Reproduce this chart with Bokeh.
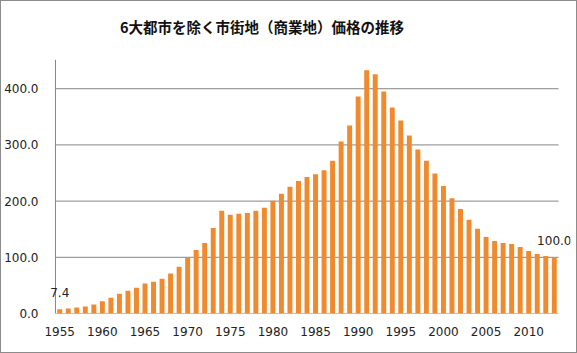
from bokeh.plotting import figure
from bokeh.layouts import column
from bokeh.models import Range1d, FixedTicker, NumeralTickFormatter, ColumnDataSource, Div
from bokeh.core.properties import value
from bokeh.embed import file_html
from bokeh.resources import INLINE

title_text = "6大都市を除く市街地（商業地）価格の推移"
years = list(range(1955, 2014))
values = [7.4, 8.8, 10.6, 12.4, 15.9, 21.8, 28.2, 35.3, 40.6, 45.9,
          53.5, 56.5, 61.8, 71.2, 83.0, 99.0, 113.0, 125.6, 152.0, 182.7,
          175.6, 177.4, 179.0, 182.7, 188.0, 200.6, 213.0, 225.6, 236.0, 243.0,
          248.0, 255.0, 272.0, 306.0, 334.5, 386.0, 432.7, 425.6, 395.0, 366.7,
          343.5, 316.7, 291.7, 272.0, 249.0, 227.0, 205.0, 186.0, 166.7, 150.6,
          136.3, 129.0, 125.6, 123.8, 118.5, 111.3, 106.0, 102.4, 100.0]
y_ticks = [0, 100, 200, 300, 400]
x_ticks = [1955, 1960, 1965, 1970, 1975, 1980, 1985, 1990, 1995, 2000, 2005, 2010]
y_max = 452

x_lo = years[0] - 0.5
x_hi = years[-1] + 0.5

src = ColumnDataSource(dict(x=years, top=values))
lab_src = ColumnDataSource(dict(x=[years[0], years[-1]], y=[values[0], values[-1]],
                                t=["%.1f" % values[0], "%.1f" % values[-1]]))

title = Div(text=('<div style="margin:16px 0 0 119px; white-space:nowrap; '
                  'font-family:\'Noto Sans CJK JP\'; font-size:14.5px; font-weight:bold; '
                  'color:#111111; line-height:20px;">' + title_text + '</div>'),
            width=575, height=40, margin=(0, 0, 0, 0))

p = figure(width=575, height=311, output_backend="svg", toolbar_location=None,
           x_range=Range1d(x_lo - 0.7, x_hi + 1.4), y_range=Range1d(0, y_max),
           min_border_left=42, min_border_right=6, min_border_top=18, min_border_bottom=39,
           margin=(0, 0, 0, 0))
p.outline_line_color = None

# gridlines and axis lines limited to the bar area
p.segment(x0=x_lo, x1=x_hi, y0=y_ticks[1:], y1=y_ticks[1:], line_color="#868686", line_width=1)
p.vbar(x="x", top="top", width=0.58, source=src, fill_color="#F08A2F", line_color=None)
p.segment(x0=[x_lo, x_lo], x1=[x_lo, x_hi], y0=[0, 0], y1=[y_max, 0],
          line_color="#868686", line_width=1)
p.text(x="x", y="y", text="t", source=lab_src, text_align="center", text_baseline="bottom",
       y_offset=-12, text_font=value("DejaVu Sans"), text_font_size="12px", text_color="#222222")

p.xgrid.grid_line_color = None
p.ygrid.grid_line_color = None

p.yaxis.ticker = FixedTicker(ticks=y_ticks)
p.yaxis.formatter = NumeralTickFormatter(format="0.0")
p.xaxis.ticker = FixedTicker(ticks=x_ticks)
for ax in (p.xaxis, p.yaxis):
    ax.axis_line_color = None
    ax.major_tick_line_color = None
    ax.minor_tick_line_color = None
    ax.major_label_text_font = "DejaVu Sans"
    ax.major_label_text_font_size = "12px"
    ax.major_label_text_color = "#222222"
p.yaxis.major_label_standoff = 5
p.xaxis.major_label_standoff = 7

layout = column(title, p, spacing=0)
layout.styles = {"border": "1px solid #8c8c8c"}

open("out.html", "w").write(file_html(layout, INLINE))
